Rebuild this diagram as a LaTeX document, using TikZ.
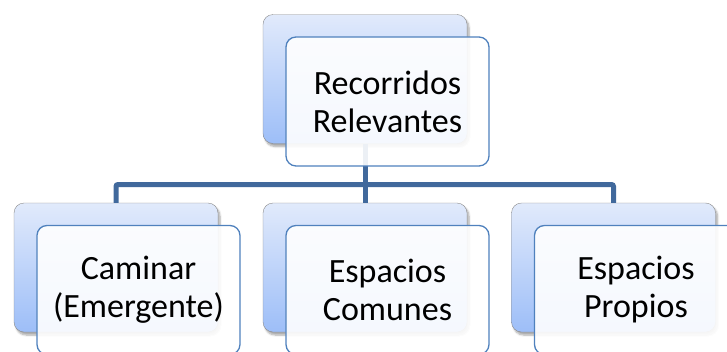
\documentclass[tikz,border=0pt]{standalone}
\usepackage{fontspec}
\setmainfont{Carlito}
\usetikzlibrary{shadows,shadows.blur}
\definecolor{boxtop}{HTML}{E1EAFB}
\definecolor{boxbot}{HTML}{9DBEF8}
\definecolor{boxedge}{HTML}{8A8A8A}
\definecolor{frontedge}{HTML}{4F81BD}
\definecolor{linkline}{HTML}{41699C}
\begin{document}
\begin{tikzpicture}[x=1pt,y=-1pt]
\path[use as bounding box] (0,0) rectangle (727,351);

\tikzstyle{back}=[draw=boxedge, thin, rounded corners=10pt, top color=boxtop, bottom color=boxbot, minimum width=204pt, minimum height=129pt, blur shadow={shadow xshift=2pt, shadow yshift=-3pt, shadow blur steps=6, shadow opacity=35}]
\tikzstyle{front}=[draw=frontedge, line width=1.3pt, rounded corners=10pt, fill=white, fill opacity=0.9, text opacity=1, minimum width=203pt, minimum height=129pt, align=center, font=\fontsize{34}{38}\selectfont, node distance=31.8pt]
\tikzstyle{link}=[draw=linkline, line width=5pt, rounded corners=2pt]

\node[back] (r) at (365,79) {};
\node[back, below of=r, node distance=188.5pt] (e) {};
\node[back, left of=e, node distance=249pt] (c) {};
\node[back, right of=e, node distance=248.5pt] (p) {};

\coordinate[below of=r, node distance=105.5pt] (j);
\draw[link] (c.north) |- (j) -| (p.north);
\draw[link] (r.south) -- (e.north);

\node[front, below right of=r] (rf) {Recorridos\\Relevantes};
\node[front, below right of=c] (cf) {Caminar\\(Emergente)};
\node[front, below right of=e] (ef) {Espacios\\Comunes};
\node[front, below right of=p] (pf) {Espacios\\Propios};
\end{tikzpicture}
\end{document}
